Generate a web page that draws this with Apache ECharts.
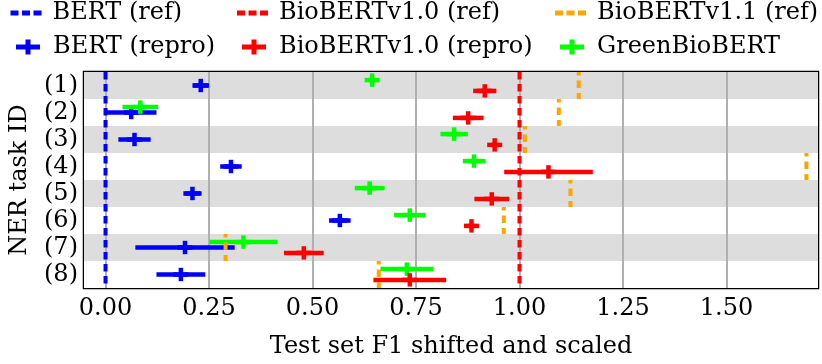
<!DOCTYPE html>
<html><head><meta charset="utf-8">
<script src="https://cdn.jsdelivr.net/npm/echarts@6/dist/echarts.min.js"></script>
<style>html,body{margin:0;padding:0;background:#fff}#c{width:822px;height:364px}</style>
</head><body><div id="c"></div>
<script>
// ---- data ----
const taskLabels = ['(1)','(2)','(3)','(4)','(5)','(6)','(7)','(8)'];
const xTicks = [0, 0.25, 0.5, 0.75, 1.0, 1.25, 1.5];
const bertRef = 0.0;
const biobert10Ref = 1.0;
const biobert11Ref = [1.143, 1.095, 1.013, 1.693, 1.123, 0.962, 0.290, 0.660];
const bertRepro = [0.230, 0.062, 0.070, 0.303, 0.210, 0.566, 0.192, 0.182];
const bertReproErr = [0.020, 0.061, 0.039, 0.026, 0.022, 0.026, 0.120, 0.059];
const biobert10Repro = [0.916, 0.876, 0.940, 1.070, 0.933, 0.884, 0.479, 0.735];
const biobert10ReproErr = [0.028, 0.037, 0.008, 0.107, 0.042, 0.008, 0.048, 0.088];
const greenBiobert = [0.644, 0.084, 0.842, 0.890, 0.638, 0.735, 0.333, 0.728];
const greenBiobertErr = [0.008, 0.043, 0.033, 0.027, 0.036, 0.038, 0.082, 0.064];

const FONT = "'DejaVu Serif', serif";
const C = {blue:'#0000ff', red:'#ff0000', orange:'#ffa500', green:'#00ff00'};

function errData(vals, errs){ return vals.map((v,i)=>[v, i, errs[i]]); }
function errRender(offsetFrac){
  return function(params, api){
    const v = api.value(0), row = api.value(1), e = api.value(2);
    const band = api.size([0,1])[1];
    const c = api.coord([v,row]);
    const y = c[1] + offsetFrac*band;
    const lo = api.coord([v-e,row])[0], hi = api.coord([v+e,row])[0];
    const style = {stroke: api.visual('color'), lineWidth: 4.5, fill: null};
    return {type:'group', children:[
      {type:'line', shape:{x1:lo,y1:y,x2:hi,y2:y}, style},
      {type:'line', shape:{x1:c[0]-7.5,y1:y,x2:c[0]+7.5,y2:y}, style},
      {type:'line', shape:{x1:c[0],y1:y-6.7,x2:c[0],y2:y+6.7}, style}
    ]};
  };
}
function fullRef(params, api){
  const x = api.coord([api.value(0), 0])[0];
  const cs = params.coordSys;
  return {type:'line', shape:{x1:x,y1:cs.y,x2:x,y2:cs.y+cs.height},
    style:{stroke:api.visual('color'), lineWidth:4, lineDash:[7.5,4.5], fill:null}};
}
function rowRef(params, api){
  const c = api.coord([api.value(0), api.value(1)]);
  const band = api.size([0,1])[1];
  return {type:'line', shape:{x1:c[0],y1:c[1]-band/2,x2:c[0],y2:c[1]+band/2},
    style:{stroke:api.visual('color'), lineWidth:4, lineDash:[7.5,5], lineDashOffset:4, fill:null}};
}

const dashIcon = 'path://M0,0H8V5H0Z M11.5,0H19.5V5H11.5Z M23,0H31V5H23Z';
const plusIcon = 'path://M0,5H24V10H0Z M9.5,0H14.5V15H9.5Z';
function leg(name, left, top, icon, w, h, pad){
  return {data:[{name, icon}], left, top, padding:0, itemWidth:w, itemHeight:h,
    textStyle:{fontFamily:FONT, fontSize:24, color:'#000', padding:[0,0,0,pad]}, selectedMode:false};
}

const chart = echarts.init(document.getElementById('c'), null, {renderer:'canvas'});
chart.setOption({
  animation:false,
  backgroundColor:'#fff',
  legend:[
    leg('BERT (ref)', 10.5, 1, dashIcon, 31, 5, 6),
    leg('BioBERTv1.0 (ref)', 237, 1, dashIcon, 31, 5, 6),
    leg('BioBERTv1.1 (ref)', 555, 1, dashIcon, 31, 5, 6),
    leg('BERT (repro)', 16, 35, plusIcon, 24, 15, 8),
    leg('BioBERTv1.0 (repro)', 242, 35, plusIcon, 24, 15, 8),
    leg('GreenBioBERT', 560, 35, plusIcon, 24, 15, 8)
  ],
  grid:{left:84, right:4, top:72, bottom:70, show:true, borderColor:'#000', borderWidth:2.5, backgroundColor:'transparent'},
  xAxis:{type:'value', min:-0.052, max:1.721,
    name:'Test set F1 shifted and scaled', nameLocation:'middle', nameGap:47,
    nameTextStyle:{fontFamily:FONT, fontSize:24, color:'#000'},
    axisLine:{show:false}, axisTick:{show:false, customValues:xTicks},
    axisLabel:{customValues:xTicks, formatter:v=>v.toFixed(2), fontFamily:FONT, fontSize:24, color:'#000', margin:9},
    splitLine:{show:true, lineStyle:{color:'#b0b0b0', width:2}}
  },
  yAxis:{type:'category', data:taskLabels, inverse:true,
    name:'NER task ID', nameLocation:'middle', nameGap:52,
    nameTextStyle:{fontFamily:FONT, fontSize:24, color:'#000'},
    axisLine:{show:false}, axisTick:{show:false},
    axisLabel:{fontFamily:FONT, fontSize:24, color:'#000', margin:6, interval:0},
    splitLine:{show:false},
    splitArea:{show:true, interval:0, areaStyle:{color:['#dddddd','#ffffff']}}
  },
  series:[
    {name:'BERT (repro)', type:'custom', z:3, itemStyle:{color:C.blue}, renderItem:errRender(0), data:errData(bertRepro, bertReproErr)},
    {name:'GreenBioBERT', type:'custom', z:3, itemStyle:{color:C.green}, renderItem:errRender(-0.2), data:errData(greenBiobert, greenBiobertErr)},
    {name:'BioBERTv1.0 (repro)', type:'custom', z:3, itemStyle:{color:C.red}, renderItem:errRender(0.2), data:errData(biobert10Repro, biobert10ReproErr)},
    {name:'BioBERTv1.1 (ref)', type:'custom', z:4, itemStyle:{color:C.orange}, renderItem:rowRef, data:biobert11Ref.map((v,i)=>[v,i])},
    {name:'BERT (ref)', type:'custom', z:4, itemStyle:{color:C.blue}, renderItem:fullRef, data:[[bertRef, 0]]},
    {name:'BioBERTv1.0 (ref)', type:'custom', z:4, itemStyle:{color:C.red}, renderItem:fullRef, data:[[biobert10Ref, 0]]}
  ]
});
</script></body></html>
